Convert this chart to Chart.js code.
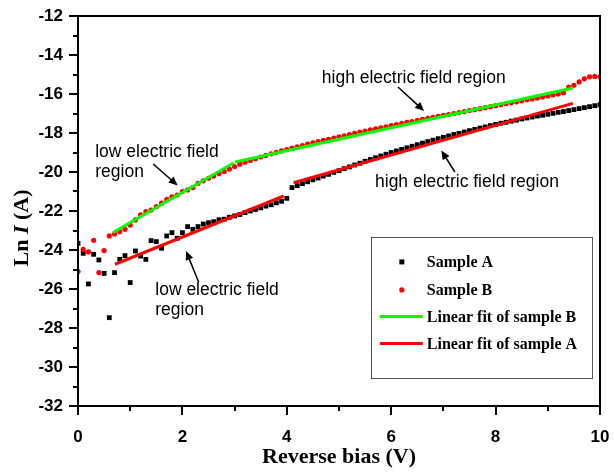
<!DOCTYPE html>
<html><head><meta charset="utf-8">
<style>html,body{margin:0;padding:0;background:#fff}#c{display:block}</style>
<script src="https://cdn.jsdelivr.net/npm/chart.js@4.4.1/dist/chart.umd.min.js"></script>
</head><body>
<canvas id="c" width="614" height="476"></canvas>
<script>
// ---------- data ----------
const voltage = [0.0,0.1,0.2,0.3,0.4,0.5,0.6,0.7,0.8,0.9,
1.0,1.1,1.2,1.3,1.4,1.5,1.6,1.7,1.8,1.9,
2.0,2.1,2.2,2.3,2.4,2.5,2.6,2.7,2.8,2.9,
3.0,3.1,3.2,3.3,3.4,3.5,3.6,3.7,3.8,3.9,
4.0,4.1,4.2,4.3,4.4,4.5,4.6,4.7,4.8,4.9,
5.0,5.1,5.2,5.3,5.4,5.5,5.6,5.7,5.8,5.9,
6.0,6.1,6.2,6.3,6.4,6.5,6.6,6.7,6.8,6.9,
7.0,7.1,7.2,7.3,7.4,7.5,7.6,7.7,7.8,7.9,
8.0,8.1,8.2,8.3,8.4,8.5,8.6,8.7,8.8,8.9,
9.0,9.1,9.2,9.3,9.4,9.5,9.6,9.7,9.8,9.9,10.0];

const sampleA = [-23.66,-24.17,-25.74,-24.22,-24.51,-25.20,-27.47,-25.16,-24.48,-24.29,
-25.67,-24.05,-24.31,-24.48,-23.52,-23.57,-23.91,-23.28,-23.11,-23.40,
-23.11,-22.80,-22.94,-22.80,-22.67,-22.60,-22.55,-22.45,-22.42,-22.32,
-22.25,-22.18,-22.08,-22.00,-21.92,-21.84,-21.75,-21.68,-21.58,-21.50,
-21.35,-20.80,-20.70,-20.60,-20.50,-20.40,-20.31,-20.21,-20.12,-20.02,
-19.93,-19.83,-19.74,-19.64,-19.55,-19.45,-19.36,-19.27,-19.18,-19.09,
-19.00,-18.92,-18.84,-18.76,-18.68,-18.60,-18.52,-18.44,-18.37,-18.29,
-18.22,-18.15,-18.08,-18.02,-17.95,-17.88,-17.82,-17.75,-17.69,-17.62,
-17.56,-17.50,-17.45,-17.39,-17.34,-17.28,-17.23,-17.18,-17.13,-17.09,
-17.04,-16.99,-16.94,-16.90,-16.85,-16.80,-16.75,-16.70,-16.65,-16.60,-16.55];

const sampleB = [-25.10,-23.97,-24.10,-23.50,-25.16,-24.03,-23.28,-23.18,-23.06,-22.94,
-22.72,-22.46,-22.20,-22.03,-21.95,-21.78,-21.60,-21.40,-21.27,-21.18,
-21.00,-20.92,-20.80,-20.58,-20.45,-20.32,-20.20,-20.08,-19.97,-19.85,
-19.72,-19.60,-19.50,-19.41,-19.32,-19.23,-19.15,-19.07,-18.99,-18.92,
-18.85,-18.78,-18.71,-18.64,-18.57,-18.51,-18.44,-18.38,-18.32,-18.26,
-18.20,-18.14,-18.08,-18.02,-17.96,-17.90,-17.84,-17.79,-17.73,-17.68,
-17.62,-17.57,-17.51,-17.46,-17.41,-17.35,-17.30,-17.25,-17.20,-17.15,
-17.10,-17.05,-17.00,-16.95,-16.90,-16.85,-16.80,-16.75,-16.70,-16.65,
-16.60,-16.55,-16.50,-16.45,-16.40,-16.35,-16.30,-16.25,-16.20,-16.15,
-16.10,-16.05,-16.00,-15.93,-15.65,-15.55,-15.38,-15.22,-15.12,-15.10,-15.12];

// linear fits (two regions each): endpoints [V], [Ln I]
const fitB_V  = [0.67, 2.98, null, 3.01, 9.48];
const fitB_Ln = [-23.10, -19.54, null, -19.49, -15.69];
const fitA_V  = [0.71, 3.94, null, 4.13, 9.48];
const fitA_Ln = [-24.73, -21.23, null, -20.55, -16.48];

const xTickValues = [0, 2, 4, 6, 8, 10];
const yTickValues = [-32, -30, -28, -26, -24, -22, -20, -18, -16, -14, -12];
const legendLabels = ['Sample A', 'Sample B', 'Linear fit of sample B', 'Linear fit of sample A'];

// annotation texts; anchors given in data units (V, Ln I)
const notes = [
  {lines:['high electric field region'], v:4.67, ln:-15.44, arrow:[6.13,-15.64,6.63,-16.87]},
  {lines:['low electric field','region'], v:0.33, ln:-19.23, arrow:[1.44,-19.59,1.91,-20.69]},
  {lines:['high electric field region'], v:5.69, ln:-20.77, arrow:[7.22,-20.00,6.96,-18.90]},
  {lines:['low electric field','region'], v:1.48, ln:-26.31, arrow:[2.31,-25.64,2.07,-24.05]}
];
const legendBox = {v0:5.61, v1:9.85, ln0:-23.33, ln1:-30.56};

// ---------- colours ----------
const BLACK = '#000000', RED = '#ff0000', GREEN = '#00ff00';

function pts(xs, ys){ return xs.map((v,i)=>({x: v===null ? (xs[i-1]+xs[i+1])/2 : v, y: ys[i]})); }

const overlay = {
  id: 'overlay',
  afterDraw(chart){
    const {ctx, chartArea:a, scales:{x, y}} = chart;
    ctx.save();
    // frame
    ctx.strokeStyle = '#000'; ctx.lineWidth = 2;
    ctx.strokeRect(a.left, a.top, a.right - a.left, a.bottom - a.top);
    // ticks (major + minor, outward)
    ctx.beginPath();
    for (let v = 0; v <= 10; v++){
      const px = Math.round(x.getPixelForValue(v));
      const len = (v % 2 === 0) ? 9 : 5;
      ctx.moveTo(px, a.bottom); ctx.lineTo(px, a.bottom + len);
    }
    for (let v = -32; v <= -12; v++){
      const py = Math.round(y.getPixelForValue(v));
      const len = (v % 2 === 0) ? 9 : 5;
      ctx.moveTo(a.left, py); ctx.lineTo(a.left - len, py);
    }
    ctx.stroke();

    // annotations
    ctx.fillStyle = '#000';
    ctx.font = '17.5px "Liberation Sans", Arial, sans-serif';
    ctx.textBaseline = 'alphabetic'; ctx.textAlign = 'left';
    notes.forEach(n => {
      const tx = x.getPixelForValue(n.v), ty = y.getPixelForValue(n.ln);
      n.lines.forEach((t, i) => ctx.fillText(t, tx, ty + i * 20));
      const [v0, l0, v1, l1] = n.arrow;
      const x0 = x.getPixelForValue(v0), y0 = y.getPixelForValue(l0);
      const x1 = x.getPixelForValue(v1), y1 = y.getPixelForValue(l1);
      const ang = Math.atan2(y1 - y0, x1 - x0);
      const hl = 9, hw = 4;
      ctx.strokeStyle = '#000'; ctx.lineWidth = 1.5;
      ctx.beginPath(); ctx.moveTo(x0, y0);
      ctx.lineTo(x1 - Math.cos(ang) * hl * 0.8, y1 - Math.sin(ang) * hl * 0.8); ctx.stroke();
      ctx.beginPath();
      ctx.moveTo(x1, y1);
      ctx.lineTo(x1 - Math.cos(ang) * hl - Math.sin(ang) * hw, y1 - Math.sin(ang) * hl + Math.cos(ang) * hw);
      ctx.lineTo(x1 - Math.cos(ang) * hl + Math.sin(ang) * hw, y1 - Math.sin(ang) * hl - Math.cos(ang) * hw);
      ctx.closePath(); ctx.fill();
    });

    // legend
    const lx0 = x.getPixelForValue(legendBox.v0), lx1 = x.getPixelForValue(legendBox.v1);
    const ly0 = y.getPixelForValue(legendBox.ln0), ly1 = y.getPixelForValue(legendBox.ln1);
    ctx.fillStyle = '#fff'; ctx.fillRect(lx0, ly0, lx1 - lx0, ly1 - ly0);
    ctx.strokeStyle = '#555'; ctx.lineWidth = 1;
    ctx.strokeRect(Math.round(lx0) + 0.5, Math.round(ly0) + 0.5, Math.round(lx1 - lx0), Math.round(ly1 - ly0));
    ctx.font = 'bold 16px "Liberation Serif", "Times New Roman", serif';
    ctx.textBaseline = 'middle';
    const rowY = [262, 290, 316.5, 343.5].map(r => ly0 + (r - 237));
    const mx = lx0 + 31, tx = lx0 + 56;
    legendLabels.forEach((lab, i) => {
      const ry = rowY[i];
      if (i === 0){ ctx.fillStyle = BLACK; ctx.fillRect(mx - 2.5, ry - 2.5, 5, 5); }
      else if (i === 1){ ctx.fillStyle = RED; ctx.beginPath(); ctx.arc(mx, ry, 2.6, 0, Math.PI * 2); ctx.fill(); }
      else {
        ctx.strokeStyle = i === 2 ? GREEN : RED; ctx.lineWidth = 3;
        ctx.beginPath(); ctx.moveTo(lx0 + 9, ry); ctx.lineTo(lx0 + 52, ry); ctx.stroke();
      }
      ctx.fillStyle = '#000';
      ctx.fillText(lab, tx, ry + 1);
    });

    // axis titles
    ctx.fillStyle = '#000'; ctx.textBaseline = 'alphabetic';
    ctx.font = 'bold 22px "Liberation Serif", "Times New Roman", serif';
    ctx.textAlign = 'center';
    ctx.fillText('Reverse bias (V)', (a.left + a.right) / 2, 463);
    // rotated y title with italic I
    const parts = [
      ['Ln ', 'bold 22px "Liberation Serif", serif'],
      ['I', 'italic bold 22px "Liberation Serif", serif'],
      [' (A)', 'bold 22px "Liberation Serif", serif']
    ];
    let total = 0;
    parts.forEach(p => { ctx.font = p[1]; total += ctx.measureText(p[0]).width; });
    ctx.translate(28, 228); ctx.rotate(-Math.PI / 2);
    ctx.textAlign = 'left';
    let cx = -total / 2;
    parts.forEach(p => { ctx.font = p[1]; ctx.fillText(p[0], cx, 0); cx += ctx.measureText(p[0]).width; });
    ctx.restore();
  }
};

const tickFont = {family: '"Liberation Sans", Arial, sans-serif', size: 17, weight: 'bold'};

new Chart(document.getElementById('c'), {
  type: 'scatter',
  data: {
    datasets: [
      {label: legendLabels[0], data: pts(voltage, sampleA), pointStyle: 'rect', pointRadius: 3.4,
       backgroundColor: BLACK, borderWidth: 0, order: 4},
      {label: legendLabels[1], data: pts(voltage, sampleB), pointStyle: 'circle', pointRadius: 2.6,
       backgroundColor: RED, borderWidth: 0, order: 3},
      {label: legendLabels[2], data: pts(fitB_V, fitB_Ln), showLine: true, spanGaps: false, pointRadius: 0,
       borderColor: GREEN, borderWidth: 3, order: 2},
      {label: legendLabels[3], data: pts(fitA_V, fitA_Ln), showLine: true, spanGaps: false, pointRadius: 0,
       borderColor: RED, borderWidth: 3, order: 1}
    ]
  },
  options: {
    responsive: false, animation: false, devicePixelRatio: 1,
    layout: {padding: {left: 0, right: 14, top: 16, bottom: 0}},
    plugins: {legend: {display: false}, tooltip: {enabled: false}},
    scales: {
      x: {type: 'linear', min: 0, max: 10,
          afterFit: s => { s.height = 70; s.paddingLeft = 0; s.paddingRight = 0; },
          afterBuildTicks: s => { s.ticks = xTickValues.map(v => ({value: v})); },
          grid: {display: false, drawTicks: false}, border: {display: false},
          ticks: {font: tickFont, color: '#000', padding: 21, maxRotation: 0}},
      y: {type: 'linear', min: -32, max: -12,
          afterFit: s => { s.width = 78; s.paddingTop = 0; s.paddingBottom = 0; },
          afterBuildTicks: s => { s.ticks = yTickValues.map(v => ({value: v})); },
          grid: {display: false, drawTicks: false}, border: {display: false},
          ticks: {font: tickFont, color: '#000', padding: 15}}
    }
  },
  plugins: [overlay]
});
</script>
</body></html>
